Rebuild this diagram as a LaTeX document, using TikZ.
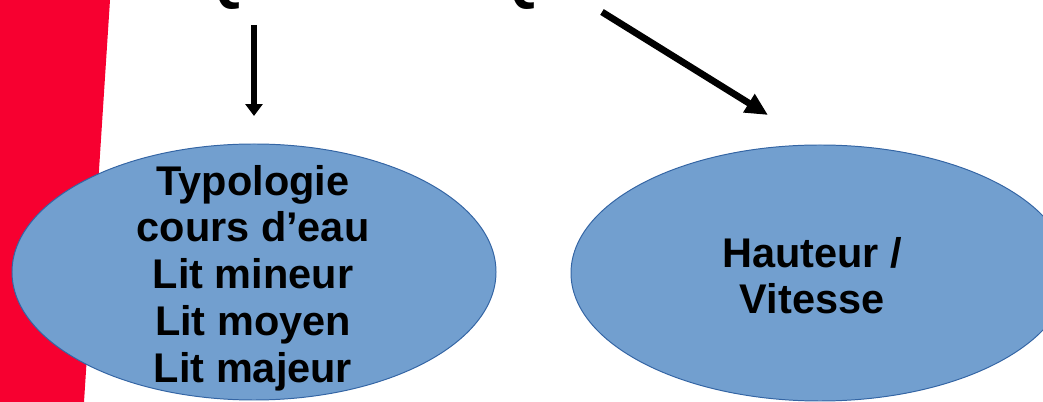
\documentclass[tikz,border=0pt]{standalone}
\usepackage{fontspec}
\setmainfont{Liberation Sans}
\usetikzlibrary{shapes.geometric, arrows.meta}
\definecolor{bandred}{RGB}{247,0,48}
\definecolor{bubblefill}{RGB}{114,159,207}
\definecolor{bubbleline}{RGB}{52,101,164}
\begin{document}
\begin{tikzpicture}
    % Define styles
    \tikzset{
        bubble/.style={ellipse, draw=bubbleline, line width=0.7pt, fill=bubblefill, inner sep=0pt, minimum height=6.4cm},
        bubbletext/.style={align=center, inner sep=0pt, font=\fontsize{29.5}{33.25}\selectfont\bfseries},
        titletext/.style={anchor=base, inner sep=0pt, font=\fontsize{43.4}{50}\selectfont\bfseries},
        thinarrow/.style={-{Triangle[length=8.5pt, width=12pt]}, line width=4.3pt},
        thickarrow/.style={-{Triangle[length=16pt, width=14.5pt]}, line width=4.8pt}
    }
    
    % Frame
    \useasboundingbox (0,0) rectangle (26.075,10.05);
    \clip (0,0) rectangle (26.075,10.05);
    
    % Red band on the left
    \fill[bandred] (0,10.05) -- (2.75,10.05) -- (2.1,0) -- (0,0) -- cycle;
    
    % Title (cut at the top)
    \node[titletext] (title) at (11.75,10.1) {Qualité et Quantité};
    
    % Ellipses
    \node[bubble, minimum width=12.1cm] (lits) at (6.35,3.25) {};
    \node[bubble, minimum width=12.45cm] (flux) at (20.5,3.225) {};
    
    % Texts
    \node[bubbletext] (litstext) at (6.325,3.1) {Typologie\\cours d’eau\\Lit mineur\\Lit moyen\hspace*{0.278em}\\Lit majeur};
    \node[bubbletext] (fluxtext) at (20.3,3.16) {Hauteur /\\Vitesse};
    
    % Arrow ends
    \coordinate (lefttop) at (6.35,9.425);
    \coordinate (leftend) at (6.35,7.15);
    \coordinate (righttop) at (15.05,9.75);
    \coordinate (rightend) at (19.2,7.175);
    
    % Arrows
    \draw[thinarrow] (lefttop) -- (leftend);
    \draw[thickarrow] (righttop) -- (rightend);
    
\end{tikzpicture}
\end{document}
